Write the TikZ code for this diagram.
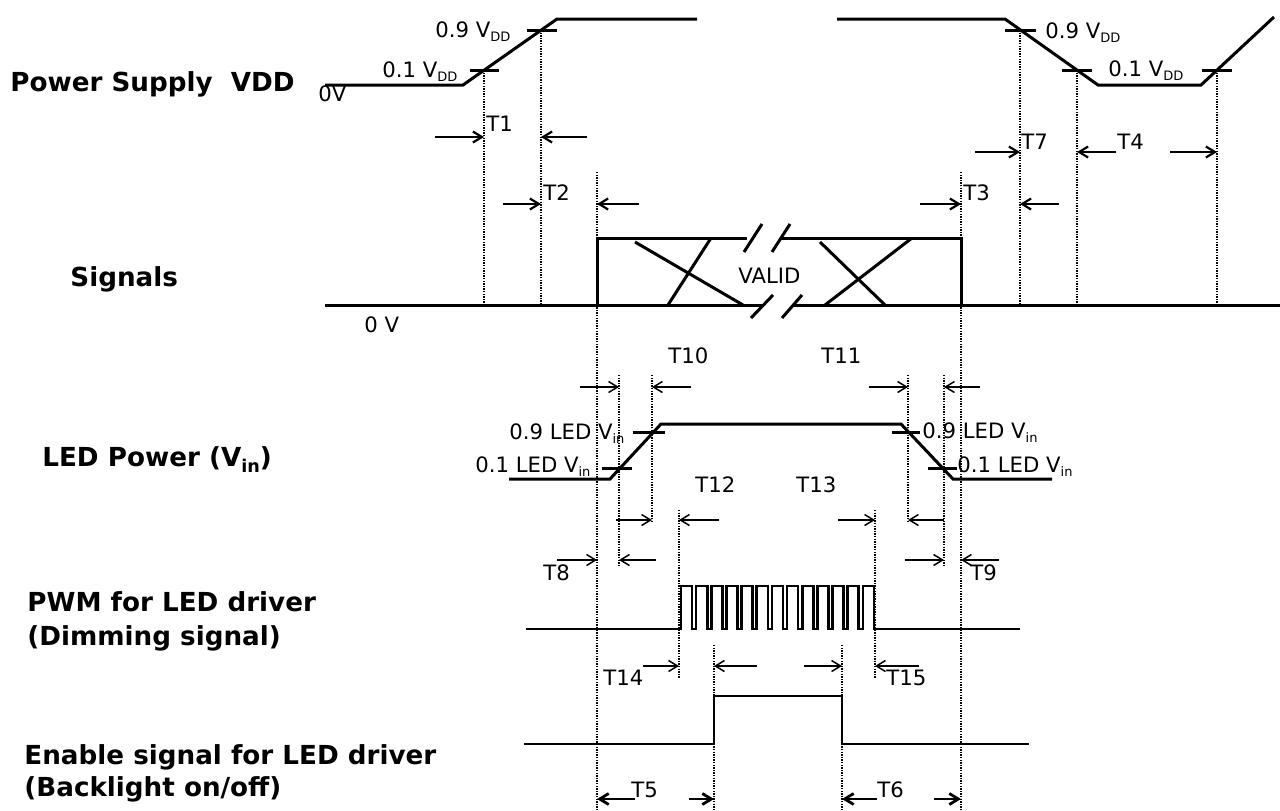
\documentclass[tikz,border=0pt]{standalone}
\usepackage{fontspec}
\setmainfont{DejaVu Sans}
\usetikzlibrary{arrows.meta}
\newcommand\dsub[1]{\raisebox{-0.22em}{\fontsize{6.5}{7}\selectfont #1}}
\newcommand\bsub[1]{\raisebox{-0.25em}{\fontsize{8.8}{9}\selectfont #1}}
\begin{document}
\begin{tikzpicture}[x=0.5pt,y=-0.5pt,
  wave/.style={line width=1.5pt,line join=miter},
  ewave/.style={line width=1.2pt,line join=miter},
  guide/.style={line width=0.65pt,dash pattern=on 0.65pt off 0.65pt},
  darrow/.style={line width=1.1pt,-{Straight Barb[length=4.5pt,width=5.5pt]}},
  barrow/.style={line width=1.4pt,-{Straight Barb[length=4.5pt,width=5.5pt]}},
  tarrow/.style={line width=0.75pt,-{Straight Barb[length=4.5pt,width=5.5pt]}},
  txt/.style={inner sep=0pt,anchor=base west,font=\fontsize{10.6}{12}\selectfont},
  ttl/.style={inner sep=0pt,anchor=base west,font=\bfseries\fontsize{13.1}{15}\selectfont},
]
\useasboundingbox (0,0) rectangle (1280,810);

% ---------- titles ----------
\node[ttl] (tpow) at (10,91) {Power Supply\ \ VDD};
\node[ttl] (tsig) at (70,286) {Signals};
\node[ttl] (tled) at (42,466) {LED Power (V\bsub{in})};
\node[ttl] (tpwm) at (27,611) {PWM for LED driver};
\node[ttl] (tpwm2) at (27,645) {(Dimming signal)};
\node[ttl] (ten) at (24,764) {Enable signal for LED driver};
\node[ttl] (ten2) at (24,796) {(Backlight on/off)};

% ---------- guide lines ----------
\draw[guide] (484,70) -- (484,305);
\draw[guide] (541,30) -- (541,305);
\draw[guide] (1020,30) -- (1020,305);
\draw[guide] (1077,70) -- (1077,305);
\draw[guide] (1217,70) -- (1217,305);
\draw[guide] (597,172) -- (597,810);
\draw[guide] (961,172) -- (961,810);
\draw[guide] (619,375) -- (619,565);
\draw[guide] (652,375) -- (652,523);
\draw[guide] (908,375) -- (908,523);
\draw[guide] (944,375) -- (944,565);
\draw[guide] (679,510) -- (679,678);
\draw[guide] (875,510) -- (875,678);
\draw[guide] (714,645) -- (714,810);
\draw[guide] (842,645) -- (842,810);

% ---------- power supply VDD ----------
\draw[wave] (325,85) -- (463,85) -- (557,19) -- (697,19);
\draw[wave] (837,19) -- (1005,19) -- (1098,85) -- (1201,85) -- (1274,17);
\draw[wave] (470,70) -- (499,70);
\draw[wave] (527,30) -- (557,30);
\draw[wave] (1005,30) -- (1036,30);
\draw[wave] (1062,70) -- (1092,70);
\draw[wave] (1202,70) -- (1232,70);
\node[txt] (l09a) at (435,37) {0.9 V\dsub{DD}};
\node[txt] (l01a) at (382,77) {0.1 V\dsub{DD}};
\node[txt] (l09b) at (1045,38) {0.9 V\dsub{DD}};
\node[txt] (l01b) at (1108,76) {0.1 V\dsub{DD}};
\node[txt] (l0v) at (318,101) {0V};

% T1, T2, T3, T7, T4
\draw[darrow] (435,137) -- (484,137);
\draw[darrow] (587,137) -- (541,137);
\node[txt] (t1) at (486,131) {T1};
\draw[darrow] (503,204) -- (541,204);
\draw[darrow] (639,204) -- (597,204);
\node[txt] (t2) at (543,200) {T2};
\draw[darrow] (920,204) -- (961,204);
\draw[darrow] (1059,204) -- (1020,204);
\node[txt] (t3) at (963,200) {T3};
\draw[darrow] (975,152) -- (1020,152);
\node[txt] (t7) at (1021,149) {T7};
\draw[darrow] (1116,152) -- (1077,152);
\node[txt] (t4) at (1117,149) {T4};
\draw[darrow] (1170,152) -- (1217,152);

% ---------- signals ----------
\draw[wave] (325,305) -- (764,305);
\draw[wave] (792,305) -- (1280,305);
\draw[wave] (597,305) -- (597,238) -- (747,238);
\draw[wave] (782,238) -- (961,238) -- (961,305);
\draw[wave] (744,252) -- (762,224);
\draw[wave] (772,252) -- (790,224);
\draw[wave] (751,318) -- (773,295);
\draw[wave] (782,318) -- (802,295);
\draw[wave] (635,242) -- (743,305);
\draw[wave] (711,238) -- (668,305);
\draw[wave] (820,242) -- (885,305);
\draw[wave] (912,238) -- (825,305);
\node[txt] (valid) at (738,283) {VALID};
\node[txt] (s0v) at (364,332) {0 V};

% ---------- LED power ----------
\draw[wave] (509,479) -- (610,479) -- (661,424) -- (901,424) -- (953,479) -- (1052,479);
\draw[wave] (602,468) -- (632,468);
\draw[wave] (633,432) -- (665,432);
\draw[wave] (892,432) -- (920,432);
\draw[wave] (928,468) -- (957,468);
\node[txt] (led09a) at (509,439) {0.9 LED V\dsub{in}};
\node[txt] (led01a) at (475,472) {0.1 LED V\dsub{in}};
\node[txt] (led09b) at (922,438) {0.9 LED V\dsub{in}};
\node[txt] (led01b) at (957,472) {0.1 LED V\dsub{in}};

\node[txt] (t10) at (668,363) {T10};
\node[txt] (t11) at (821,363) {T11};
\draw[tarrow] (580,387) -- (619,387);
\draw[tarrow] (691,387) -- (652,387);
\draw[tarrow] (869,387) -- (908,387);
\draw[tarrow] (980,387) -- (944,387);

\node[txt] (t12) at (695,492) {T12};
\node[txt] (t13) at (796,492) {T13};
\draw[tarrow] (616,520) -- (652,520);
\draw[tarrow] (719,520) -- (679,520);
\draw[tarrow] (838,520) -- (875,520);
\draw[tarrow] (944,520) -- (908,520);

\draw[tarrow] (557,560) -- (597,560);
\draw[tarrow] (656,560) -- (619,560);
\draw[tarrow] (905,560) -- (944,560);
\draw[tarrow] (999,560) -- (961,560);
\node[txt] (t8) at (543,580) {T8};
\node[txt] (t9) at (970,580) {T9};

% ---------- PWM ----------
\draw[wave,line width=1.3pt] (526,629)
  foreach \i in {0,...,12} {
    -- ({681+\i*15.15},629) -- ({681+\i*15.15},586)
    -- ({692.1+\i*15.15},586) -- ({692.1+\i*15.15},629)
  } -- (1020,629);

\draw[tarrow] (643,666) -- (679,666);
\node[txt] (t14) at (603,685) {T14};
\draw[tarrow] (757,666) -- (714,666);
\draw[tarrow] (804,666) -- (842,666);
\draw[tarrow] (919,666) -- (875,666);
\node[txt] (t15) at (886,685) {T15};

% ---------- Enable ----------
\draw[ewave] (524,744) -- (714,744) -- (714,696) -- (842,696) -- (842,744) -- (1029,744);

\draw[barrow] (635,799) -- (597,799);
\node[txt] (t5) at (631,797) {T5};
\draw[barrow] (689,799) -- (714,799);
\draw[barrow] (877,799) -- (842,799);
\node[txt] (t6) at (877,797) {T6};
\draw[barrow] (934,799) -- (961,799);
\end{tikzpicture}
\end{document}
